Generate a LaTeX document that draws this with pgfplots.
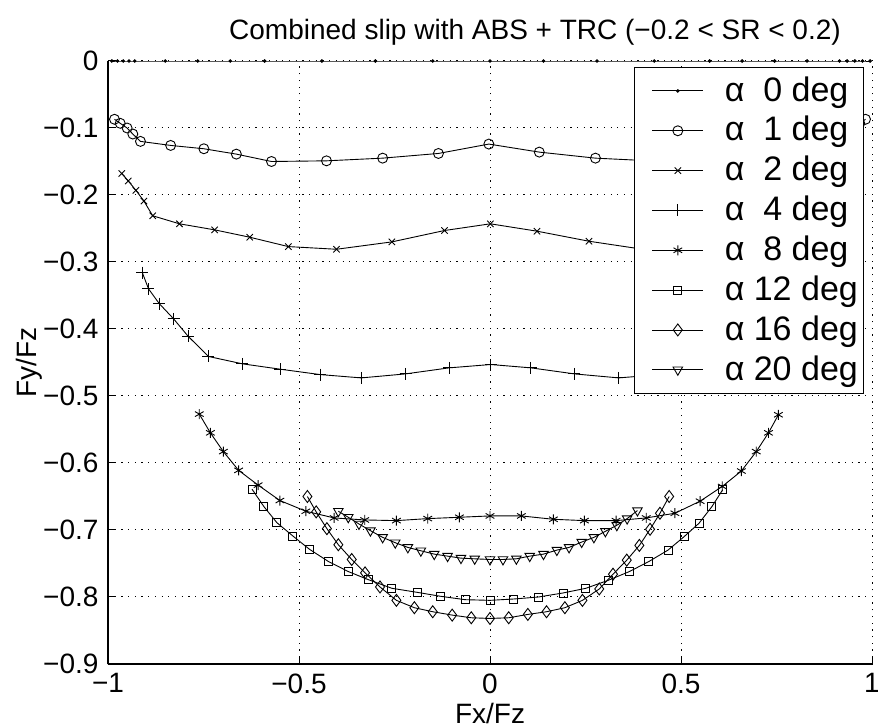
\documentclass[border=0pt]{standalone}
\usepackage{fontspec}
\setmainfont{Liberation Sans}
\usepackage{pgfplots}
\pgfplotsset{compat=1.18}
\begin{document}
\fontsize{28}{33}\selectfont
\begin{tikzpicture}
\begin{axis}[
  scale only axis, width=764pt, height=603pt,
  xmin=-1, xmax=1, ymin=-0.9, ymax=0,
  axis lines=left, axis line style={-, line width=1.6pt},
  clip=false,
  font=\fontsize{28}{33}\selectfont,
  xtick={-1,-0.5,0,0.5,1}, xticklabels={−1,−0.5,0,0.5,1},
  ytick={-0.9,-0.8,-0.7,-0.6,-0.5,-0.4,-0.3,-0.2,-0.1,0},
  yticklabels={−0.9,−0.8,−0.7,−0.6,−0.5,−0.4,−0.3,−0.2,−0.1,0},
  tick align=inside, major tick length=8pt, tick style={line width=1pt, black},
  grid=major, grid style={line width=1pt, dash pattern=on 1.2pt off 5.5pt, black},
  title={Combined slip with ABS + TRC (−0.2 < SR < 0.2)},
  title style={xshift=45pt},
  xlabel={Fx/Fz}, ylabel={Fy/Fz},
  xlabel style={yshift=9pt},
  ylabel style={yshift=-18pt},
  every axis plot/.append style={line width=0.9pt, black},
  legend style={at={(rel axis cs:0.99,0.99)}, anchor=north east, draw=black, line width=1pt, fill=white,
    font=\fontsize{34}{39}\selectfont, row sep=7pt, inner xsep=4pt, inner ysep=7pt, cells={anchor=west},
    /tikz/every odd column/.append style={column sep=19pt}},
  legend image code/.code={\path (0pt,0pt); \draw[mark repeat=2,mark phase=2,line width=0.9pt] plot coordinates {(13pt,0pt) (38.5pt,0pt) (64pt,0pt)};},
]
\addplot[mark=*, mark size=1.3pt] coordinates {
(-0.99,0) (-0.975,0) (-0.96,0) (-0.945,0) (-0.93,0) (-0.85,0) (-0.765,0) (-0.68,0) (-0.59,0) (-0.44,0) (-0.30,0) (-0.15,0) (0,0) (0.14,0) (0.28,0) (0.43,0) (0.575,0) (0.66,0) (0.745,0) (0.83,0) (0.915,0) (0.935,0) (0.955,0) (0.975,0) (0.995,0)};
\addlegendentry{α\ \ 0 deg}
\addplot[mark=o, mark size=5pt] coordinates {
(-0.983,-0.087) (-0.968,-0.093) (-0.950,-0.100) (-0.935,-0.109) (-0.915,-0.120) (-0.836,-0.126) (-0.749,-0.131) (-0.664,-0.139) (-0.572,-0.150) (-0.428,-0.149) (-0.281,-0.145) (-0.135,-0.138) (-0.003,-0.124) (0.129,-0.136) (0.276,-0.145) (0.42,-0.149) (0.57,-0.150) (0.66,-0.139) (0.75,-0.131) (0.836,-0.126) (0.915,-0.120) (0.935,-0.109) (0.950,-0.100) (0.968,-0.093) (0.983,-0.087)};
\addlegendentry{α\ \ 1 deg}
\addplot[mark=x, mark size=4.5pt] coordinates {
(-0.964,-0.168) (-0.947,-0.179) (-0.927,-0.193) (-0.906,-0.209) (-0.883,-0.231) (-0.813,-0.243) (-0.721,-0.252) (-0.629,-0.263) (-0.528,-0.277) (-0.402,-0.281) (-0.257,-0.270) (-0.119,-0.253) (0.001,-0.243) (0.123,-0.254) (0.259,-0.269) (0.40,-0.281) (0.528,-0.277) (0.629,-0.263) (0.721,-0.252) (0.813,-0.243) (0.883,-0.231) (0.906,-0.209) (0.927,-0.193) (0.947,-0.179) (0.964,-0.168)};
\addlegendentry{α\ \ 2 deg}
\addplot[mark=+, mark size=6pt] coordinates {
(-0.910,-0.316) (-0.894,-0.340) (-0.866,-0.362) (-0.828,-0.385) (-0.79,-0.411) (-0.737,-0.441) (-0.648,-0.452) (-0.549,-0.460) (-0.445,-0.468) (-0.337,-0.473) (-0.221,-0.467) (-0.107,-0.458) (0.002,-0.453) (0.107,-0.458) (0.221,-0.467) (0.337,-0.473) (0.445,-0.468) (0.549,-0.460) (0.648,-0.452) (0.737,-0.441) (0.79,-0.411) (0.828,-0.385) (0.866,-0.362) (0.894,-0.340) (0.910,-0.316)};
\addlegendentry{α\ \ 4 deg}
\addplot[mark=asterisk, mark size=5pt] coordinates {
(-0.761,-0.527) (-0.732,-0.555) (-0.698,-0.583) (-0.658,-0.611) (-0.607,-0.633) (-0.550,-0.656) (-0.482,-0.672) (-0.408,-0.682) (-0.328,-0.685) (-0.245,-0.686) (-0.163,-0.683) (-0.080,-0.681) (0.0,-0.679) (0.082,-0.679) (0.166,-0.684) (0.247,-0.686) (0.330,-0.686) (0.409,-0.682) (0.484,-0.675) (0.55,-0.657) (0.608,-0.635) (0.658,-0.612) (0.697,-0.583) (0.729,-0.555) (0.755,-0.528)};
\addlegendentry{α\ \ 8 deg}
\addplot[mark=square, mark size=4pt] coordinates {
(-0.623,-0.639) (-0.592,-0.665) (-0.558,-0.689) (-0.516,-0.709) (-0.472,-0.729) (-0.423,-0.747) (-0.371,-0.762) (-0.319,-0.774) (-0.257,-0.787) (-0.191,-0.793) (-0.129,-0.799) (-0.065,-0.804) (0.0,-0.805) (0.062,-0.803) (0.127,-0.800) (0.191,-0.794) (0.251,-0.787) (0.310,-0.775) (0.365,-0.762) (0.416,-0.747) (0.466,-0.730) (0.508,-0.710) (0.547,-0.690) (0.581,-0.665) (0.609,-0.640)};
\addlegendentry{α\ 12 deg}
\addplot[mark=diamond, mark size=6pt] coordinates {
(-0.478,-0.650) (-0.455,-0.673) (-0.427,-0.698) (-0.397,-0.722) (-0.362,-0.744) (-0.327,-0.764) (-0.288,-0.785) (-0.245,-0.805) (-0.198,-0.816) (-0.150,-0.822) (-0.099,-0.827) (-0.049,-0.831) (0.0,-0.832) (0.049,-0.831) (0.099,-0.826) (0.148,-0.822) (0.196,-0.816) (0.242,-0.805) (0.286,-0.788) (0.322,-0.766) (0.358,-0.745) (0.391,-0.723) (0.419,-0.699) (0.445,-0.675) (0.469,-0.650)};
\addlegendentry{α\ 16 deg}
\addplot[mark=triangle, mark size=5.5pt, mark options={rotate=180}] coordinates {
(-0.397,-0.672) (-0.371,-0.681) (-0.343,-0.691) (-0.313,-0.701) (-0.281,-0.711) (-0.248,-0.719) (-0.215,-0.726) (-0.181,-0.731) (-0.146,-0.736) (-0.111,-0.739) (-0.076,-0.742) (-0.040,-0.743) (0.0,-0.744) (0.034,-0.744) (0.069,-0.743) (0.104,-0.739) (0.140,-0.736) (0.175,-0.730) (0.207,-0.726) (0.240,-0.718) (0.272,-0.711) (0.302,-0.702) (0.332,-0.693) (0.359,-0.683) (0.386,-0.671)};
\addlegendentry{α\ 20 deg}
\end{axis}
\pgfresetboundingbox
\path[use as bounding box] ([xshift=-108pt,yshift=-64pt]current axis.south west) rectangle ([xshift=6pt,yshift=61pt]current axis.north east);
\end{tikzpicture}
\end{document}
